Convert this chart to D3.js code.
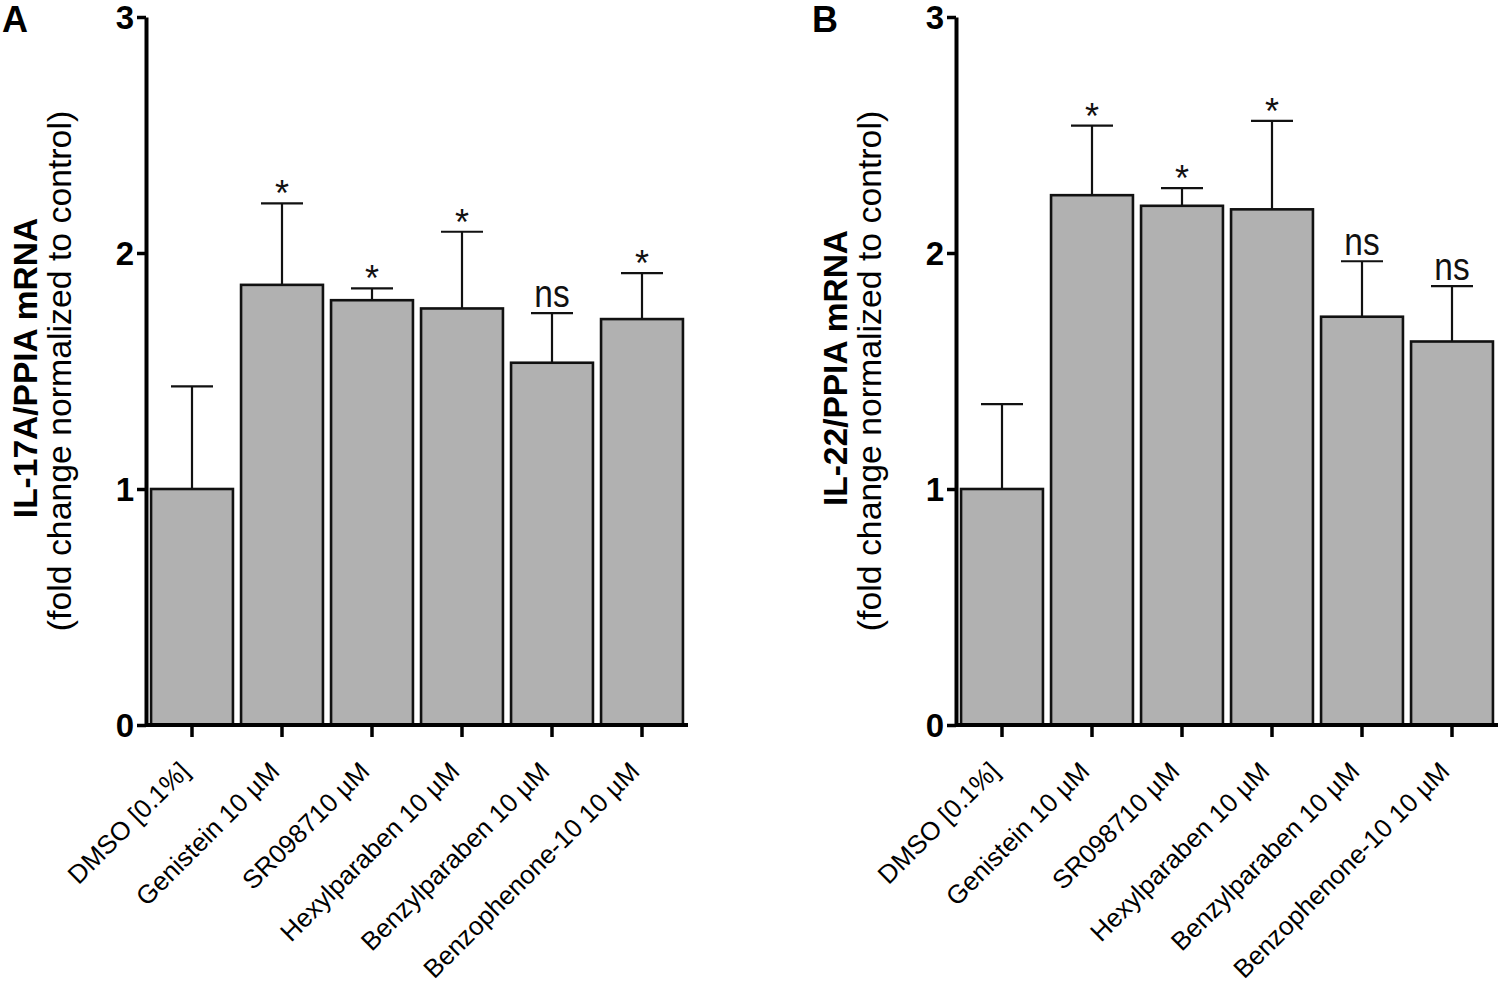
<!DOCTYPE html>
<html>
<head>
<meta charset="utf-8">
<script src="https://cdn.jsdelivr.net/npm/d3@7"></script>
<style>
  html, body { margin: 0; padding: 0; background: #fff; }
  svg { display: block; font-family: "Liberation Sans", Arial, Helvetica, sans-serif; }
</style>
</head>
<body>
<svg id="chart" width="1501" height="989"></svg>
<script>
// ---------- data ----------
const categories = ["DMSO [0.1%]", "Genistein 10 \u00b5M", "SR098710 \u00b5M", "Hexylparaben 10 \u00b5M", "Benzylparaben 10 \u00b5M", "Benzophenone-10 10 \u00b5M"];
const yTicks = [0, 1, 2, 3];

const il17aMean = [1.00, 1.865, 1.80, 1.765, 1.535, 1.72];
const il17aErr  = [0.435, 0.345, 0.05, 0.325, 0.21, 0.195];
const il17aSig  = ["", "*", "*", "*", "ns", "*"];

const il22Mean = [1.00, 2.245, 2.20, 2.185, 1.73, 1.625];
const il22Err  = [0.36, 0.295, 0.075, 0.375, 0.235, 0.235];
const il22Sig  = ["", "*", "*", "*", "ns", "ns"];

const panelLetters = ["A", "B"];
const titleMain = ["IL-17A/PPIA mRNA", "IL-22/PPIA mRNA"];
const titleSub = "(fold change normalized to control)";

// ---------- drawing ----------
const svg = d3.select("#chart");
svg.append("rect").attr("width", 1501).attr("height", 989).attr("fill", "#fff");

function drawPanel(offsetX, letter, mainTitle, means, errs, sigs) {
  const g = svg.append("g").attr("transform", `translate(${offsetX},0)`);
  const axisX = 146;
  const y = d3.scaleLinear().domain([0, 3]).range([725, 17]);
  const x = d3.scaleBand().domain(categories).range([147, 687])
    .paddingInner(0.09).paddingOuter(0.045);

  const data = categories.map((c, i) => ({ c, m: means[i], e: errs[i], s: sigs[i] }));

  // error bars (behind bars)
  const eb = g.append("g").attr("stroke", "#111").attr("stroke-width", 2.2).attr("fill", "none");
  data.forEach(d => {
    const cx = x(d.c) + x.bandwidth() / 2;
    eb.append("line").attr("x1", cx).attr("x2", cx).attr("y1", y(d.m)).attr("y2", y(d.m + d.e));
    eb.append("line").attr("x1", cx - 21).attr("x2", cx + 21).attr("y1", y(d.m + d.e)).attr("y2", y(d.m + d.e));
  });

  // bars
  g.append("g").selectAll("rect").data(data).join("rect")
    .attr("x", d => x(d.c))
    .attr("width", x.bandwidth())
    .attr("y", d => y(d.m))
    .attr("height", d => y(0) - y(d.m))
    .attr("fill", "#b1b1b1")
    .attr("stroke", "#111")
    .attr("stroke-width", 2.6);

  // significance labels
  data.forEach(d => {
    if (!d.s) return;
    const cx = x(d.c) + x.bandwidth() / 2;
    const top = y(d.m + d.e);
    if (d.s === "*") {
      g.append("text").attr("x", cx).attr("y", top + 3)
        .attr("text-anchor", "middle").attr("font-size", 36).attr("fill", "#111").text("*");
    } else {
      g.append("text").attr("x", cx).attr("y", top - 6)
        .attr("text-anchor", "middle").attr("font-size", 38).attr("fill", "#111")
        .attr("transform", `translate(${cx},0) scale(0.88,1) translate(${-cx},0)`)
        .text(d.s);
    }
  });

  // y axis
  const ya = g.append("g").attr("transform", `translate(${axisX},0)`)
    .call(d3.axisLeft(y).tickValues(yTicks).tickFormat(d3.format("d")).tickSize(9).tickSizeOuter(0).tickPadding(3));
  ya.select(".domain").attr("stroke", "#000").attr("stroke-width", 4);
  ya.selectAll(".tick line").attr("stroke", "#000").attr("stroke-width", 3.5);
  ya.selectAll(".tick text").attr("font-size", 33).attr("font-weight", "bold").attr("fill", "#000")
    .attr("font-family", "Liberation Sans, Arial, sans-serif").attr("dy", "0.36em");

  // x axis
  const xa = g.append("g").attr("transform", `translate(0,${y(0)})`)
    .call(d3.axisBottom(x).tickSize(12).tickSizeOuter(0).tickPadding(0));
  xa.select(".domain").attr("stroke", "#000").attr("stroke-width", 3.8)
    .attr("d", `M${axisX},0H${x.range()[1] + 1}`);
  xa.selectAll(".tick line").attr("stroke", "#000").attr("stroke-width", 3.5);
  xa.selectAll(".tick text")
    .attr("font-size", 26).attr("fill", "#000")
    .attr("font-family", "Liberation Sans, Arial, sans-serif")
    .attr("text-anchor", "end")
    .attr("dy", 0).attr("y", 0)
    .attr("transform", "translate(-1,48) rotate(-45)");

  // y title
  const cy = (y(0) + y(3)) / 2;
  g.append("text").attr("transform", `translate(37,${cy - 3}) rotate(-90)`)
    .attr("text-anchor", "middle").attr("font-size", 33.5).attr("font-weight", "bold").attr("fill", "#000")
    .text(mainTitle);
  g.append("text").attr("transform", `translate(71,${cy}) rotate(-90)`)
    .attr("text-anchor", "middle").attr("font-size", 33.8).attr("fill", "#000")
    .text(titleSub);

  // panel letter
  g.append("text").attr("x", 2).attr("y", 32)
    .attr("font-size", 36).attr("font-weight", "bold").attr("fill", "#000").text(letter);
}

drawPanel(0, panelLetters[0], titleMain[0], il17aMean, il17aErr, il17aSig);
drawPanel(810, panelLetters[1], titleMain[1], il22Mean, il22Err, il22Sig);
</script>
</body>
</html>
